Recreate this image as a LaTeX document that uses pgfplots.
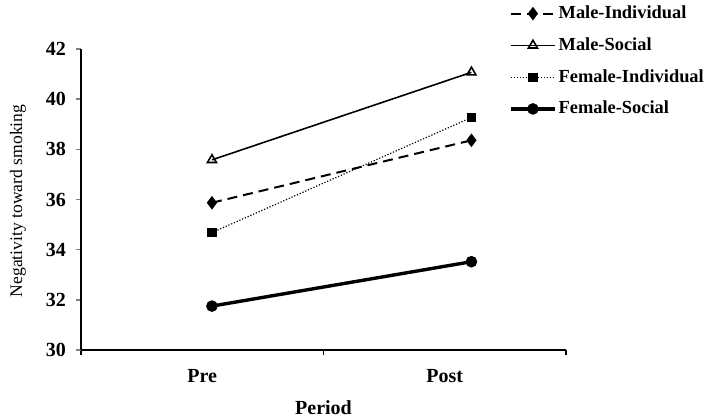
\documentclass[border=0pt]{standalone}
\usepackage{fontspec}
\setmainfont{Liberation Serif}
\usepackage{pgfplots}
\pgfplotsset{compat=1.18}
\begin{document}
\begin{tikzpicture}
\useasboundingbox (-40.5pt,-34.5pt) rectangle (313.5pt,175pt);
\begin{axis}[
  at={(0,0)}, anchor=south west,
  scale only axis,
  width=242.5pt, height=150.5pt,
  xmin=0, xmax=2, ymin=30, ymax=42,
  axis x line*=bottom, axis y line*=left,
  axis line style={-, line width=0.9pt},
  xtick={0.5,1.5}, xticklabels={Pre,Post},
  minor xtick={0,1,2},
  ytick={30,32,...,42},
  tick align=outside,
  major tick length=2.5pt, minor tick length=2.5pt,
  x tick style={draw=none},
  minor x tick style={draw=black, line width=0.8pt},
  y tick style={line width=0.8pt},
  /pgf/number format/assume math mode=true,
  ticklabel style={font=\fontsize{10}{12}\selectfont\bfseries},
  xticklabel style={yshift=-3.5pt},
  yticklabel style={xshift=-1.5pt},
  xlabel={Period},
  xlabel style={font=\fontsize{10}{12}\selectfont\bfseries, at={(axis description cs:0.5,0)}, anchor=center, yshift=-29pt},
  ylabel={Negativity toward smoking},
  ylabel style={font=\fontsize{8.8}{10}\selectfont, at={([xshift=-31.5pt]axis description cs:0,0.495)}, anchor=center},
  legend style={draw=none, fill=none, at={(axis description cs:0.878,1.165)}, anchor=north west,
    font=\fontsize{9.2}{11}\selectfont\bfseries, row sep=4pt, inner sep=1pt,
    legend cell align=left, nodes={inner xsep=1pt}},
  legend image code/.code={
    \draw[#1, mark repeat=2, mark phase=2] plot coordinates {(0pt,0pt) (11pt,0pt) (22pt,0pt)};
  },
  clip=false,
]
\addplot[black, line width=1pt, dash pattern=on 5pt off 3pt, mark=diamond*, mark size=2.6pt, mark options={solid, fill=black}]
  coordinates {(0.54,35.87) (1.61,38.36)};
\addlegendentry{Male-Individual}
\addplot[black, line width=0.8pt, mark=triangle, mark size=2.6pt, mark options={solid, fill=white}]
  coordinates {(0.54,37.58) (1.61,41.07)};
\addlegendentry{Male-Social}
\addplot[black, line width=0.6pt, dash pattern=on 0.6pt off 0.9pt, mark=square*, mark size=2pt, mark options={solid, fill=black}]
  coordinates {(0.54,34.68) (1.61,39.27)};
\addlegendentry{Female-Individual}
\addplot[black, line width=1.7pt, mark=*, mark size=2pt, mark options={solid, fill=black}]
  coordinates {(0.54,31.75) (1.61,33.52)};
\addlegendentry{Female-Social}
\end{axis}
\end{tikzpicture}
\end{document}
